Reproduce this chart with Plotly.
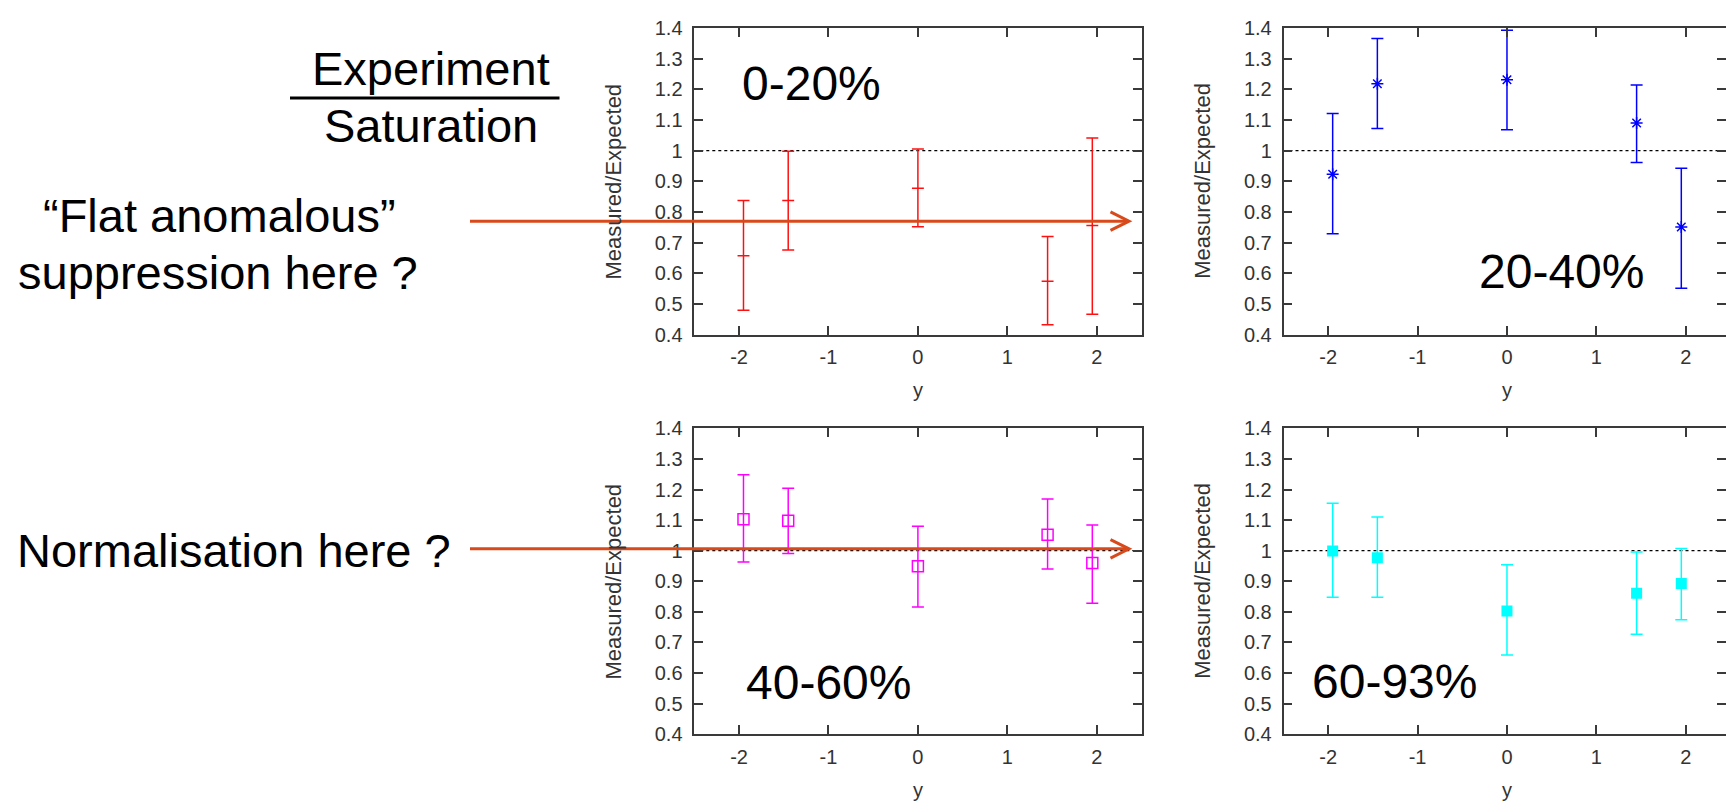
import numpy as np
import plotly.graph_objects as go

# ---------------- data ----------------
rapidity = [-1.95, -1.45, 0.0, 1.45, 1.95]

cent_0_20_val = [0.657, 0.837, 0.877, 0.574, 0.756]
cent_0_20_hi = [0.837, 0.998, 1.005, 0.720, 1.041]
cent_0_20_lo = [0.480, 0.676, 0.752, 0.432, 0.467]

cent_20_40_val = [0.923, 1.218, 1.231, 1.090, 0.751]
cent_20_40_hi = [1.121, 1.365, 1.392, 1.214, 0.942]
cent_20_40_lo = [0.729, 1.072, 1.068, 0.961, 0.551]

cent_40_60_val = [1.103, 1.098, 0.949, 1.052, 0.960]
cent_40_60_hi = [1.248, 1.204, 1.080, 1.169, 1.084]
cent_40_60_lo = [0.963, 0.991, 0.816, 0.940, 0.828]

cent_60_93_val = [0.999, 0.977, 0.803, 0.861, 0.893]
cent_60_93_hi = [1.155, 1.110, 0.954, 0.996, 1.007]
cent_60_93_lo = [0.848, 0.848, 0.659, 0.727, 0.774]

panel_labels = ["0-20%", "20-40%", "40-60%", "60-93%"]
y_tickvals = [0.4, 0.5, 0.6, 0.7, 0.8, 0.9, 1.0, 1.1, 1.2, 1.3, 1.4]
y_ticktext = ["0.4", "0.5", "0.6", "0.7", "0.8", "0.9", "1", "1.1", "1.2", "1.3", "1.4"]
x_tickvals = [-2, -1, 0, 1, 2]
x_ticktext = ["-2", "-1", "0", "1", "2"]
reference_level = 1.0

# ---------------- layout helpers ----------------
W, H = 1726, 812
FONT = "Liberation Sans, Arial, Helvetica, sans-serif"
ARROW = "#D84A1B"
AXC = "#3a3a3a"
LBL = "#333333"


def px(x):
    return x / W


def py(y):
    return 1 - y / H


panels = [
    dict(xd=(694.3, 1141.5), yd=(17.3, 332.7), xr=(-2.5, 2.5), cut=False,
         val=cent_0_20_val, hi=cent_0_20_hi, lo=cent_0_20_lo, color="#FF1010",
         marker=dict(symbol="line-ew", size=8.5, color="#FF1010",
                     line=dict(width=1.5, color="#FF1010")),
         label_pos=(740, 74.5)),
    dict(xd=(1283.5, 1726), yd=(17.3, 332.7), xr=(-2.5, 2.45), cut=True,
         val=cent_20_40_val, hi=cent_20_40_hi, lo=cent_20_40_lo, color="#0000FF",
         marker=dict(symbol="asterisk-open", size=10, color="#0000FF",
                     line=dict(width=1.5, color="#0000FF")),
         label_pos=(1476.5, 267.5)),
    dict(xd=(694.3, 1141.5), yd=(429, 743.3), xr=(-2.5, 2.5), cut=False,
         val=cent_40_60_val, hi=cent_40_60_hi, lo=cent_40_60_lo, color="#FF00FF",
         marker=dict(symbol="square-open", size=11, color="#FF00FF",
                     line=dict(width=1.5, color="#FF00FF")),
         label_pos=(744, 690.5)),
    dict(xd=(1283.5, 1726), yd=(429, 743.3), xr=(-2.5, 2.45), cut=True,
         val=cent_60_93_val, hi=cent_60_93_hi, lo=cent_60_93_lo, color="#00FFFF",
         marker=dict(symbol="square", size=11, color="#00FFFF",
                     line=dict(width=0)),
         label_pos=(1310, 688.8)),
]

fig = go.Figure()
shapes = []
annotations = []
layout_axes = {}
extra_axis = 5

tick_common = dict(ticks="inside", ticklen=9, tickwidth=1.5, tickcolor=AXC,
                   showgrid=False, zeroline=False)

for i, p in enumerate(panels):
    n = "" if i == 0 else str(i + 1)
    xa, ya = "x" + n, "y" + n
    val = np.array(p["val"])
    hi = np.array(p["hi"])
    lo = np.array(p["lo"])
    fig.add_trace(go.Scatter(
        x=rapidity, y=val, mode="markers", xaxis=xa, yaxis=ya,
        marker=p["marker"], showlegend=False, hoverinfo="x+y",
        error_y=dict(type="data", symmetric=False, array=hi - val,
                     arrayminus=val - lo, color=p["color"], thickness=1.5,
                     width=6),
    ))
    layout_axes["xaxis" + n] = dict(
        domain=[px(p["xd"][0]), px(p["xd"][1])], range=list(p["xr"]),
        anchor=ya, tickvals=x_tickvals, ticktext=x_ticktext,
        showline=True, linecolor=AXC, linewidth=1.5, mirror="ticks",
        ticklabelstandoff=4,
        tickfont=dict(family=FONT, size=20, color=LBL), **tick_common,
    )
    layout_axes["yaxis" + n] = dict(
        domain=[py(p["yd"][1]), py(p["yd"][0])], range=[0.4, 1.4],
        anchor=xa, tickvals=y_tickvals, ticktext=y_ticktext,
        showline=True, linecolor=AXC, linewidth=1.5,
        mirror=False if p["cut"] else "ticks",
        ticklabelstandoff=6,
        tickfont=dict(family=FONT, size=20, color=LBL), **tick_common,
    )
    if p["cut"]:
        # right-hand frame lies just beyond the picture edge: only its ticks show
        k = str(extra_axis)
        extra_axis += 1
        layout_axes["yaxis" + k] = dict(
            overlaying=ya, side="right", anchor=xa, range=[0.4, 1.4],
            tickvals=y_tickvals, showticklabels=False, showline=False,
            **tick_common,
        )
        fig.add_trace(go.Scatter(x=[None], y=[None], xaxis=xa, yaxis="y" + k,
                                 mode="markers", showlegend=False,
                                 hoverinfo="skip"))
    # dotted reference line at ratio = 1
    shapes.append(dict(type="line", xref=xa + " domain", yref=ya,
                       x0=0, x1=1, y0=reference_level, y1=reference_level,
                       line=dict(color="black", width=1.2, dash="dot"),
                       layer="below"))
    # axis titles
    ycen = (p["yd"][0] + p["yd"][1]) / 2
    annotations.append(dict(text="Measured/Expected", xref="paper", yref="paper",
                            x=px(p["xd"][0] - 81), y=py(ycen), textangle=-90,
                            showarrow=False, xanchor="center", yanchor="middle",
                            font=dict(family=FONT, size=22, color=LBL)))
    xcen = p["xd"][0] + (0 - p["xr"][0]) / (p["xr"][1] - p["xr"][0]) * (p["xd"][1] - p["xd"][0])
    annotations.append(dict(text="y", xref="paper", yref="paper",
                            x=px(xcen), y=py(p["yd"][1] + 57), showarrow=False,
                            xanchor="center", yanchor="middle",
                            font=dict(family=FONT, size=20, color=LBL)))
    # centrality label
    annotations.append(dict(text=panel_labels[i], xref="paper", yref="paper",
                            x=px(p["label_pos"][0]), y=py(p["label_pos"][1]),
                            showarrow=False, xanchor="left", yanchor="middle",
                            font=dict(family=FONT, size=48, color="black")))

# left-hand commentary
left_texts = [
    ("Experiment", 431, 59.2),
    ("Saturation", 430.5, 117.5),
    ("\u201cFlat anomalous\u201d", 219, 210.2),
    ("suppression here ?", 217.7, 268.3),
    ("Normalisation here ?", 234, 555),
]
for t, x, y in left_texts:
    annotations.append(dict(text=t, xref="paper", yref="paper", x=px(x), y=py(y),
                            showarrow=False, xanchor="center", yanchor="middle",
                            font=dict(family=FONT, size=47, color="black")))

# fraction bar
shapes.append(dict(type="line", xref="paper", yref="paper",
                   x0=px(290), x1=px(559.5), y0=py(89.3), y1=py(89.3),
                   line=dict(color="black", width=3)))

# arrows
for (x0, x1, yy) in [(470, 1129, 216), (470, 1129, 552.8)]:
    shapes.append(dict(type="line", xref="paper", yref="paper",
                       x0=px(x0), x1=px(x1 - 1), y0=py(yy), y1=py(yy),
                       line=dict(color=ARROW, width=3), layer="above"))
    path = "M {a},{b} L {c},{d} L {e},{f}".format(
        a=px(x1 - 18.5), b=py(yy - 9.5), c=px(x1), d=py(yy),
        e=px(x1 - 18.5), f=py(yy + 9.5))
    shapes.append(dict(type="path", xref="paper", yref="paper", path=path,
                       line=dict(color=ARROW, width=3), layer="above"))

fig.update_layout(
    width=W, height=H, margin=dict(l=0, r=0, t=0, b=0, pad=0),
    paper_bgcolor="white", plot_bgcolor="white",
    shapes=shapes, annotations=annotations, showlegend=False,
    font=dict(family=FONT),
    **layout_axes,
)

fig.write_html("out.html", config={"displayModeBar": False},
               post_script="document.body.style.margin='0';document.body.style.overflow='hidden';")
